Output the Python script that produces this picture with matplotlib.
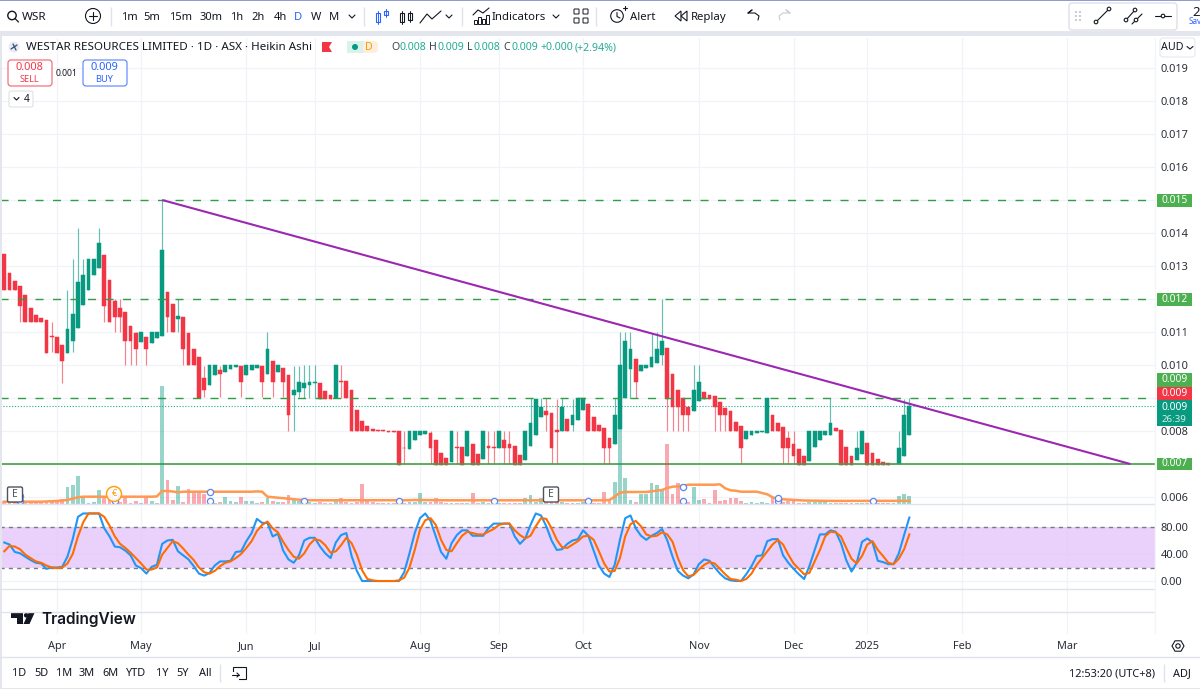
import numpy as np
import matplotlib
matplotlib.use("Agg")
import matplotlib.pyplot as plt
from matplotlib.patches import Rectangle, FancyBboxPatch, Circle, Polygon
from matplotlib.ticker import FuncFormatter

plt.rcParams["font.family"] = ["Noto Sans", "DejaVu Sans"]

W, H = 1200, 689

# Heikin Ashi candles, thousandths of an Australian dollar
opens = [
    13.35,12.8,12.55,12.39,12.11,11.73,11.51,11.41,11.36,10.89,
    10.86,10.62,10.37,10.73,11.13,11.81,12.27,12.74,12.95,13.33,
    12.58,11.94,11.73,11.6,11.18,10.96,10.71,10.86,10.66,10.83,
    10.89,12.2,11.84,11.4,11.45,10.98,10.47,10.23,9.62,9.4,
    9.69,9.85,9.79,9.88,9.94,9.98,9.71,9.84,9.92,9.98,
    9.72,10.11,9.79,9.9,9.71,9.09,9.18,9.3,9.39,9.44,
    9.46,9.21,9.1,9.0,9.51,9.51,9.25,8.63,8.31,8.14,
    8.07,8.03,8.02,8.0,8.0,8.0,7.49,7.46,7.73,7.87,
    7.92,7.94,7.72,7.34,7.18,7.07,7.53,7.51,7.24,7.6,
    7.3,7.14,7.55,7.53,7.49,7.74,7.61,7.56,7.27,7.11,
    7.54,7.89,8.43,8.6,8.54,8.02,8.0,8.37,8.17,8.32,
    8.65,8.83,8.41,8.18,8.1,7.78,7.62,8.06,9.0,9.88,
    10.18,9.83,9.9,9.93,10.06,10.29,10.52,9.74,9.24,9.0,
    8.74,8.6,8.92,9.19,9.09,9.05,8.88,8.7,8.6,8.28,
    8.14,7.77,7.89,7.94,7.98,7.95,8.47,8.23,8.11,7.8,
    7.62,7.44,7.24,7.09,7.51,7.73,7.87,7.89,8.1,8.04,
    7.51,7.25,7.11,7.29,7.63,7.32,7.15,7.07,7.02,7.0,
    7.0,7.24,7.87,
]
closes = [
    12.27,12.27,12.27,11.79,11.31,11.31,11.31,11.31,10.37,10.86,
    10.37,10.13,11.1,11.56,12.52,12.73,13.21,13.21,13.69,11.79,
    11.3,11.46,11.46,10.73,10.73,10.48,11.0,10.48,11.0,11.0,
    13.5,11.46,11.0,11.48,10.48,9.99,9.99,8.99,9.24,9.99,
    9.99,9.74,9.99,9.99,9.99,9.47,9.99,9.99,9.99,9.47,
    10.49,9.47,9.99,9.47,8.48,9.24,9.48,9.46,9.47,9.47,
    8.97,8.97,8.97,10.0,9.48,9.0,8.0,8.0,8.0,8.0,
    8.0,8.0,8.0,7.98,7.98,6.97,7.47,8.0,8.0,8.0,
    8.0,7.48,6.97,6.97,6.97,8.0,7.48,6.97,8.0,6.97,
    6.97,8.0,7.48,7.48,8.0,7.48,7.48,6.97,6.97,8.0,
    8.23,8.98,8.74,8.48,7.48,7.98,8.74,8.0,8.49,9.0,
    9.0,8.0,8.0,8.0,7.48,7.48,8.5,9.99,10.73,10.49,
    9.48,10.0,10.0,10.23,10.49,10.73,8.97,8.73,8.73,8.48,
    8.48,9.24,9.49,8.97,8.97,8.73,8.48,8.48,8.0,8.0,
    7.48,8.0,8.0,8.0,8.0,9.0,8.0,8.0,7.48,7.48,
    7.24,6.97,6.97,8.0,8.0,8.0,8.0,8.23,8.0,6.97,
    6.97,6.97,7.48,8.0,6.97,6.97,6.97,6.97,6.97,7.01,
    7.48,8.5,8.75,
]
highs = [
    13.35,12.8,12.55,12.39,12.11,11.73,11.51,11.41,11.36,11.31,
    10.86,10.62,12.27,13.21,14.16,13.21,13.21,13.21,14.16,13.33,
    12.58,12.0,12.0,11.6,11.18,11.0,11.0,10.86,11.0,11.0,
    15.0,12.2,11.84,12.0,11.45,10.98,10.47,10.23,9.98,9.99,
    9.99,9.98,9.99,9.99,9.99,9.98,9.99,9.99,9.99,9.98,
    11.01,10.11,9.99,9.9,9.71,9.98,9.98,10.0,10.0,10.0,
    9.46,9.21,9.1,10.0,10.0,9.51,9.25,8.63,8.31,8.14,
    8.07,8.03,8.02,8.0,8.0,8.0,8.0,8.0,8.0,8.0,
    8.0,8.0,7.72,7.34,7.18,8.0,8.0,7.51,8.0,7.6,
    7.3,8.0,8.0,8.0,8.0,8.0,8.0,7.56,7.27,8.0,
    9.0,8.98,9.0,9.0,8.54,8.98,9.0,8.37,8.98,9.0,
    9.0,8.83,8.41,8.18,8.1,7.78,9.0,11.0,11.0,11.0,
    10.18,10.0,10.0,10.95,11.0,12.0,10.52,9.74,9.24,9.0,
    8.74,10.0,10.0,9.19,9.09,9.05,8.88,8.7,8.6,8.28,
    8.14,8.0,8.0,8.0,8.0,9.0,8.47,8.23,8.11,8.0,
    8.0,7.44,7.24,8.0,8.0,8.0,8.0,9.0,8.1,8.04,
    7.51,7.25,8.0,8.0,7.63,7.32,7.15,7.07,7.02,7.01,
    8.0,8.98,9.0,
]
lows = [
    12.27,12.27,12.27,11.31,11.31,11.31,11.31,11.31,10.37,10.38,
    10.37,9.46,10.37,10.38,11.13,11.81,12.27,12.74,12.95,11.31,
    11.3,11.01,11.01,10.01,10.01,10.01,10.71,10.01,10.66,10.83,
    10.89,11.01,11.0,11.0,10.01,9.99,9.99,8.99,9.02,9.4,
    9.69,9.02,9.79,9.88,9.94,9.02,9.71,9.84,9.92,9.02,
    9.72,9.02,9.79,9.02,8.01,8.01,9.02,9.0,9.0,9.0,
    8.97,8.97,8.97,9.0,9.0,9.0,8.0,8.0,8.0,8.0,
    8.0,8.0,8.0,7.98,7.98,6.97,7.0,7.46,7.73,7.87,
    7.92,7.0,6.97,6.97,6.97,7.07,7.0,6.97,7.24,6.97,
    6.97,7.14,7.0,7.0,7.49,7.0,7.0,6.97,6.97,7.11,
    7.54,7.89,8.43,8.0,7.0,7.0,8.0,8.0,8.0,8.32,
    8.65,8.0,8.0,8.0,7.0,7.0,7.62,8.06,9.0,9.0,
    9.0,9.83,9.9,9.93,10.06,10.0,8.0,8.0,8.0,8.0,
    8.0,8.6,8.92,8.97,8.97,8.0,8.0,8.0,8.0,8.0,
    7.0,7.77,7.89,7.94,7.98,7.95,8.0,8.0,7.0,7.0,
    7.0,6.97,6.97,7.09,7.51,7.73,7.87,7.89,8.0,6.97,
    6.97,6.97,7.11,7.29,6.97,6.97,6.97,6.97,6.97,7.0,
    7.0,7.24,7.87,
]

# Traded volume and its moving average, in hundred-thousand shares
volume = [
    3.3,2,2,2,2,2,2,2,2.3,2.7,
    2.7,4.7,16.7,19.3,28,8,1.3,2.3,14,7.3,
    12.3,5.7,2.3,6.7,0.7,2.7,0.7,6.7,3.3,1.3,
    117.7,24,4,18,2.3,15.3,10.7,12.3,10,2.3,
    1.3,2.3,7.3,3.3,2,7.3,2.7,2.7,1.3,2.3,
    5.7,2.7,2.3,2.3,9,4,3.3,2,2,1.3,
    2,1.3,1.3,3,5.7,2,1.3,2,20,2.7,
    2,1.3,1,1,1,2,1.3,2,2,11.3,
    2,2,5.7,2,1.3,1.3,1.3,1.3,1.3,10.7,
    1.3,2,1.3,1.3,1.3,1.3,1.3,1.3,1.3,5.7,
    8.7,2,5.7,10,3,3,2,1.3,1.3,1.3,
    2,2,1.3,1.3,11.7,3.3,21.7,75.7,25.7,4,
    2,10,10,20.7,19,14.7,59.7,10,20.7,2.3,
    2.3,17.3,4,4.7,0.7,14,3.3,4,5.7,5.7,
    3.3,0.7,1.7,1.3,1.7,1.3,7.3,2,2,3.3,
    3.3,0.7,1.3,2,2,2,2,1.3,0.7,1,
    1,1,1,1,1,1,1,1,1,1,
    8.3,10.3,8,
]
volume_ma = [
    2.3,2.3,2.3,2.3,2.3,2.3,2.3,2.3,2.5,2.8,
    3,3.5,4,5.4,6.7,7.3,7.3,7.3,7.3,7.3,
    7.3,7.3,7.3,7.3,7.3,7.3,7.3,7.3,7.3,7.6,
    13,13,12.5,11.7,12.3,12.3,12.3,12.3,12.3,12.3,
    12.3,12.3,12.3,12.3,12.3,12.3,12.3,12.3,12.6,12.3,
    7.3,6.8,6.3,5.8,5.2,4.7,4.3,4,3.8,3.7,
    3.7,3.7,3.7,3.7,3.7,3.7,3.7,3.7,3.7,3.7,
    3.7,3.7,3.7,3.7,3.7,3.7,3.7,3.8,4,4,
    4,3.9,3.8,3.7,3.7,3.7,3.7,3.7,3.7,3.7,
    3.7,3.7,3.7,3.7,3.7,3.7,3.7,3.7,3.7,3.7,
    3.7,3.7,3.7,3.7,3.7,3.7,3.7,3.7,3.7,3.7,
    3.7,3.7,3.7,3.7,3.7,4,7.3,11.3,12,12,
    12,12,12,12.7,13.3,14,16,17.3,17.7,18.3,
    19.3,19.3,19.3,19.3,19.3,19.3,19.7,15.7,13.7,13.3,
    12.3,12.3,12.3,12.3,11,9.7,6.7,5,4.7,4.3,
    4,3.7,3.5,3.4,3.3,3.2,3.2,3.1,3.1,3.1,
    3,3,3,3,3,3,3,3,3,3,
    3,3,3.2,
]

# Stochastic RSI, %K and %D
stoch_k = [
    57,54,43,41,36,31,27,26,18,20,
    20,21,36,62,95,100,100,100,100,78,
    66,51,50,45,38,23,19,11,21,24,
    55,60,61,44,38,32,22,11,8,12,
    23,29,29,30,43,44,59,71,92,86,
    86,66,70,45,32,27,38,60,64,64,
    51,41,34,57,68,71,37,15,0,0,
    0,0,0,0,0,0,13,41,71,93,
    100,89,66,43,33,56,68,75,75,67,
    67,67,78,85,85,85,85,66,55,63,
    83,100,97,81,60,46,47,55,60,62,
    75,67,45,23,11,6,24,61,93,97,
    78,67,61,67,71,77,60,36,15,8,
    4,10,25,32,30,20,11,4,1,0,
    0,10,22,37,38,59,62,62,38,27,
    18,10,3,22,46,69,69,75,73,56,
    31,14,27,58,63,57,30,28,25,25,
    41,68,94,
]
stoch_d = [
    44,52,51,47,39,34,29,27,23,20,
    19,20,26,40,66,87,100,100,100,95,
    82,66,55,49,42,34,26,17,17,20,
    39,49,59,56,48,39,31,20,13,11,
    15,22,27,29,34,40,49,59,74,83,
    88,78,72,58,46,36,33,41,54,62,
    60,53,42,44,53,64,56,39,16,3,
    1,0,0,0,0,1,5,20,46,76,
    90,93,83,61,46,44,56,67,73,71,
    69,69,73,77,83,85,85,75,68,63,
    67,81,93,92,78,61,50,49,54,59,
    66,67,61,44,26,14,15,34,66,84,
    89,81,69,66,67,72,69,58,34,16,
    7,9,17,24,28,26,18,10,3,2,
    0,3,11,24,34,44,54,61,54,39,
    26,18,10,12,29,46,66,73,72,66,
    49,33,26,37,54,59,46,37,27,25,
    33,47,69,
]

price_ticks = [0.006, 0.008, 0.010, 0.011, 0.013, 0.014, 0.016, 0.017,
               0.018, 0.019]
grid_only_prices = [0.007, 0.009, 0.012, 0.015]
stoch_ticks = [0, 40, 80]
month_labels = ["Apr", "May", "Jun", "Jul", "Aug", "Sep", "Oct", "Nov",
                "Dec", "2025", "Feb", "Mar"]
month_bars = [10, 26, 46, 59, 79, 94, 110, 132, 150, 164, 182, 202]
dashed_levels = [0.015, 0.012, 0.009]
solid_level = 0.007
trend_bars = [30, 214]
trend_prices = [0.015, 0.007]
dividend_bars = [3, 21, 39, 57, 75, 93, 111, 129, 147, 165]
dividend_low = [3, 3, 3, 3, 3, 3, 3, 3, 3, 3]
upper_marker_bars = [3, 21, 39, 129, 147]
upper_marker_vol = [8, 8, 12, 17, 6]

GREEN = "#089981"
RED = "#f23645"
LEVEL = "#2f9e44"
INK = "#131722"
GRID = "#f0f3fa"
EDGE = "#e0e3eb"

o = np.array(opens) * 1e-3
c = np.array(closes) * 1e-3
hi = np.array(highs) * 1e-3
lo = np.array(lows) * 1e-3
bars = np.arange(len(o))
up = c >= o
colours = np.where(up, GREEN, RED)


def rect_of(x0, y0, x1, y1):
    """Axes rectangle from pixel corners measured from the top left."""
    return [x0 / W, 1 - y1 / H, (x1 - x0) / W, (y1 - y0) / H]


fig = plt.figure(figsize=(W / 100, H / 100), dpi=100, facecolor="white")
bar_limits = (-0.817, 218.68)

# Price pane; the levels carrying a coloured tag have no plain tick label
ax = fig.add_axes(rect_of(0, 38, 1155, 504))
ax.set_xlim(*bar_limits)
ax.set_ylim(0.005788, 0.019909)
ax.yaxis.tick_right()
ax.set_yticks(price_ticks)
ax.yaxis.set_major_formatter(FuncFormatter(lambda v, _: f"{v:.3f}"))
ax.tick_params(axis="y", length=0, pad=4.2, labelsize=7.9, labelcolor="#2a2e39")
ax.set_xticks(month_bars)
ax.tick_params(axis="x", length=0, labelbottom=False)
ax.grid(True, color=GRID, lw=0.9)
ax.set_axisbelow(True)
for s in ax.spines.values():
    s.set_visible(False)
for lvl in grid_only_prices:
    ax.axhline(lvl, color=GRID, lw=0.9, zorder=1)

ax.vlines(bars, lo, hi, colors=colours, lw=0.85, alpha=0.62, zorder=3)
ax.bar(bars, np.abs(c - o), bottom=np.minimum(o, c), width=0.72, color=colours,
       edgecolor=colours, lw=0.35, zorder=4)

for lvl in dashed_levels:
    ax.axhline(lvl, color=LEVEL, lw=1.0, ls=(0, (5.8, 6.8)), zorder=5)
ax.axhline(solid_level, color="#43a047", lw=1.2, zorder=5)
ax.axhline(c[-1], color="#22ab94", lw=0.8, ls=(0, (1, 1.6)), zorder=2)
ax.plot(trend_bars, trend_prices, color="#9c27b0", lw=1.5, zorder=6,
        solid_capstyle="butt")

# Volume overlay shares the bottom of the price pane
vol = fig.add_axes(rect_of(0, 38, 1155, 504), sharex=ax)
vol.patch.set_alpha(0)
vol.set_ylim(0, 466)
vol.axis("off")
vol.bar(bars, volume, width=0.72, color=colours, alpha=0.42, lw=0, zorder=2)
vol.plot(bars, volume_ma, color="#ff9850", lw=1.8, zorder=3)
vol.scatter(dividend_bars, dividend_low, s=20, facecolor="white",
            edgecolor="#5f86ee", lw=0.9, zorder=5)
vol.scatter(upper_marker_bars, upper_marker_vol, s=20, facecolor="white",
            edgecolor="#5f86ee", lw=0.9, zorder=5)

# Stochastic RSI pane
st = fig.add_axes(rect_of(0, 504, 1155, 589), sharex=ax)
st.set_ylim(-11.8, 114)
st.yaxis.tick_right()
st.set_yticks(stoch_ticks)
st.yaxis.set_major_formatter(FuncFormatter(lambda v, _: f"{v:.2f}"))
st.tick_params(axis="y", length=0, pad=4.2, labelsize=7.9, labelcolor="#2a2e39")
st.tick_params(axis="x", length=0, labelbottom=False)
st.grid(True, color=GRID, lw=0.9)
st.set_axisbelow(True)
for s in st.spines.values():
    s.set_visible(False)
st.axhspan(20, 80, color="#e2c2fa", alpha=0.75, lw=0, zorder=1)
for lvl in (20, 80):
    st.axhline(lvl, color="#787b86", lw=1.0, ls=(0, (3, 3)), zorder=2)
st.plot(bars, stoch_k, color="#2196f3", lw=1.5, zorder=3)
st.plot(bars, stoch_d, color="#ff6d00", lw=1.5, zorder=4)

# Time scale
tm = fig.add_axes(rect_of(0, 589, 1155, 634), sharex=ax)
tm.set_yticks([])
tm.set_xticks(month_bars)
tm.set_xticklabels(month_labels)
tm.tick_params(axis="x", length=0, pad=4.9, labelsize=7.9, labelcolor="#2a2e39",
               labelbottom=True)
tm.grid(True, axis="x", color=GRID, lw=0.9)
for s in tm.spines.values():
    s.set_visible(False)
for lab in tm.get_xticklabels():
    if lab.get_text() == "2025":
        lab.set_fontweight("bold")

# Interface chrome, laid out in pixels
ui = fig.add_axes([0, 0, 1, 1], zorder=20)
ui.set_xlim(0, W)
ui.set_ylim(H, 0)
ui.axis("off")
ui.patch.set_alpha(0)


def label(x, y, s, size=7.9, color=INK, ha="center", weight="normal", **kw):
    return ui.text(x, y + 1, s, fontsize=size, color=color, ha=ha, va="center",
                   fontweight=weight, **kw)


def stroke(xs, ys, color=INK, lw=0.9, **kw):
    ui.plot(xs, ys, color=color, lw=lw, solid_capstyle="round", **kw)


def rule(x0, y0, x1, y1, color=EDGE, lw=1.0):
    ui.plot([x0, x1], [y0, y1], color=color, lw=lw, solid_capstyle="butt")


# Page frame and top toolbar
ui.add_patch(Rectangle((0, 0), W, 32, fc="white", ec="none"))
ui.add_patch(Rectangle((0, 31), W, 4.5, fc="#e4e6ee", ec="none"))
ui.add_patch(Rectangle((0, 0), W, 1.2, fc="#8f9ccf", ec="none"))
ui.add_patch(Rectangle((0, 35), 1.6, H - 35, fc="#e4e6ee", ec="none"))
ui.add_patch(Rectangle((0, 687.5), W, 1.5, fc="#e4e6ee", ec="none"))
rule(0, 504, 1155, 504)
rule(0, 589, 1155, 589)
rule(0, 612, 1155, 612)
rule(0, 657, W, 657)
rule(1155, 38, 1155, 634, color="#f4f5f9")

ui.add_patch(Circle((12, 15.5), 4.2, fc="none", ec=INK, lw=1.0))
stroke([15, 18.5], [18.5, 22])
label(22, 16, "WSR", size=8.4, ha="left", weight="bold")
ui.add_patch(Circle((93, 16), 7.5, fc="none", ec=INK, lw=0.8))
stroke([89, 97], [16, 16], lw=0.8)
stroke([93, 93], [12, 20], lw=0.8)
rule(110.5, 7, 110.5, 26)
for x, s in [(129, "1m"), (152, "5m"), (181, "15m"), (211, "30m"), (237, "1h"),
             (258, "2h"), (280, "4h"), (316, "W"), (334, "M")]:
    label(x, 16.5, s, size=8.0)
label(298, 16.5, "D", size=8.0, color="#2962ff")
for x in (352, 449, 556):
    stroke([x - 3, x, x + 3], [15, 18, 15], lw=0.8)
rule(364, 7, 364, 26)
rule(462, 7, 462, 26)
rule(596, 7, 596, 26)
for x, y0, y1, col in [(378, 11, 24, "#2962ff"), (386, 9, 17, "#2962ff"),
                       (402, 11, 24, INK), (410, 11, 22, INK)]:
    ui.add_patch(Rectangle((x - 2, y0 + 2), 4, y1 - y0 - 4, fc="white", ec=col, lw=0.8))
    stroke([x, x], [y0, y1], color=col, lw=0.7, zorder=1)
stroke([420, 427, 432, 441], [23, 14, 19, 11], lw=0.8)
for x, h in [(473.5, 4), (477.5, 7), (481.5, 5), (485.5, 9)]:
    ui.add_patch(Rectangle((x, 24 - h), 3, h, fc="white", ec=INK, lw=0.7))
stroke([473, 478, 483, 489], [15, 10, 13, 8], lw=0.8)
label(492, 16.5, "Indicators", size=8.2, ha="left")
for x in (576.5, 585.5):
    for y in (11.5, 20.5):
        ui.add_patch(FancyBboxPatch((x - 2, y - 2), 4, 4, boxstyle="round,pad=0.5",
                                    fc="white", ec=INK, lw=0.7))
ui.add_patch(Circle((617, 16), 6.3, fc="none", ec=INK, lw=0.8))
stroke([617, 617, 620], [12.5, 16.5, 18], lw=0.8)
stroke([623, 627], [8, 8], lw=0.8)
stroke([625, 625], [6, 10], lw=0.8)
label(630, 16.5, "Alert", size=8.2, ha="left")
ui.add_patch(Polygon([[681, 11], [675, 16], [681, 21]], closed=True, fc="none", ec=INK, lw=0.8))
ui.add_patch(Polygon([[687, 11], [681, 16], [687, 21]], closed=True, fc="none", ec=INK, lw=0.8))
label(691, 16.5, "Replay", size=8.2, ha="left")
stroke([748, 752, 748, 755, 759, 758], [13, 10, 13, 13, 16, 20], lw=0.8)
stroke([790, 786, 790, 783, 779, 780], [13, 10, 13, 13, 16, 20], color="#c9ccd6", lw=0.8)

# Floating drawing toolbar
ui.add_patch(FancyBboxPatch((1069, 3), 108, 27, boxstyle="round,pad=0,rounding_size=3",
                            fc="white", ec="#e3e5ec", lw=1.2))
for x in (1076, 1080):
    for y in (12, 16, 20):
        ui.add_patch(Rectangle((x - 0.8, y - 0.8), 1.6, 1.6, fc="#c9ccd6", ec="none"))
for x0, y0, x1, y1 in [(1096, 22, 1109, 9), (1126, 20, 1135, 10)]:
    stroke([x0, x1], [y0, y1], lw=0.8)
    ui.add_patch(Circle((x0, y0), 1.8, fc="white", ec=INK, lw=0.8, zorder=5))
    ui.add_patch(Circle((x1, y1), 1.8, fc="white", ec=INK, lw=0.8, zorder=5))
stroke([1132, 1142], [24, 14], lw=0.8)
ui.add_patch(Circle((1136, 20), 1.8, fc="white", ec=INK, lw=0.8, zorder=5))
stroke([1155, 1171], [16, 16], lw=0.8)
ui.add_patch(Circle((1163, 16), 1.8, fc="white", ec=INK, lw=0.8, zorder=5))
label(1196, 11, "2", size=9.5, weight="bold")
label(1188.5, 21, "Sav", size=5.8, color="#2962ff", ha="left")

# Symbol header
ui.add_patch(Circle((14, 47), 5.5, fc="#e8ecf5", ec="none"))
stroke([11, 17], [49, 45], color="#3a4a78", lw=0.9)
stroke([13, 16], [44, 50], color="#3a4a78", lw=0.9)
label(26, 47, "WESTAR RESOURCES LIMITED · 1D · ASX · Heikin Ashi", size=8.35, ha="left")
ui.add_patch(Polygon([[322, 42], [332, 42], [329, 47], [332, 52], [322, 52]],
                     closed=True, fc=RED, ec="none"))
ui.add_patch(FancyBboxPatch((353, 41), 14, 12, boxstyle="round,pad=0,rounding_size=4",
                            fc="#daf2ec", ec="none"))
ui.add_patch(FancyBboxPatch((363, 41), 15, 12, boxstyle="round,pad=0,rounding_size=4",
                            fc="#fdeedd", ec="none"))
ui.add_patch(Circle((355, 47), 3, fc=GREEN, ec="none", zorder=5))
ui.add_patch(Rectangle((347, 41), 8, 12, fc="#daf2ec", ec="none", zorder=1))
label(369, 46.5, "D", size=7.6, color="#ff9800", weight="bold")
for x, s in [(391, "O"), (429, "H"), (467, "L"), (503, "C")]:
    label(x, 46.5, s, size=7.6, color="#3a3e4a", ha="left")
for x, s in [(399, "0.008"), (437, "0.009"), (473, "0.008"), (511, "0.009"),
             (540, "+0.000"), (575, "(+2.94%)")]:
    label(x, 46.5, s, size=7.6, color="#22ab94", ha="left")

# Order buttons
for x0, col, price, side in [(8, RED, "0.008", "SELL"), (83, "#2962ff", "0.009", "BUY")]:
    ui.add_patch(FancyBboxPatch((x0, 60), 44, 26, boxstyle="round,pad=0,rounding_size=3",
                                fc="white", ec=col, lw=0.8, alpha=0.8))
    label(x0 + 21.5, 67, price, size=7.9, color=col)
    label(x0 + 21.5, 78, side, size=6.6, color=col)
label(67, 72, "0.001", size=6.2)
ui.add_patch(FancyBboxPatch((9, 91), 24, 16, boxstyle="round,pad=0,rounding_size=2",
                            fc="white", ec="#dfe1e8", lw=0.8))
stroke([14, 16.5, 19], [97.5, 100, 97.5], lw=0.8)
label(27, 98, "4", size=7.2)

# Currency selector and price tags
ui.add_patch(FancyBboxPatch((1160, 38), 35, 19, boxstyle="round,pad=0,rounding_size=3",
                            fc="white", ec="#e6e8ef", lw=0.8))
label(1172, 46.5, "AUD", size=7.7)
stroke([1187, 1190, 1193], [46.5, 49, 46.5], lw=0.8)


def tag(y0, y1, text, fill, sub=None):
    ui.add_patch(Rectangle((1157, y0), 35, y1 - y0, fc=fill, ec="none", zorder=6))
    if sub is None:
        label(1174.5, (y0 + y1) / 2 - 1, text, size=7.4, color="white", weight="bold", zorder=7)
    else:
        label(1174.5, y0 + 6.5, text, size=7.4, color="white", weight="bold", zorder=7)
        label(1174.5, y0 + 18, sub, size=7.0, color="#d5efe9", zorder=7)


tag(194, 207, "0.015", "#4caf50")
tag(293, 306, "0.012", "#4caf50")
tag(373, 387, "0.009", "#4caf50")
tag(387, 400, "0.009", RED)
tag(400, 426, "0.009", GREEN, sub="26:39")
tag(458, 470, "0.007", "#4caf50")

# Earnings and dividend badges
for x in (15, 551):
    ui.add_patch(FancyBboxPatch((x - 7.5, 487), 15, 15, boxstyle="round,pad=0,rounding_size=1.5",
                                fc="white", ec="#50535e", lw=1.0, zorder=4))
    label(x, 493.5, "E", size=7.4, color="#50535e", zorder=5)
ui.add_patch(Circle((114, 494), 7.5, fc="white", ec="#ff9800", lw=1.1, alpha=0.9, zorder=4))
label(114, 492, "€", size=6.5, color="#ff9800", zorder=5)

# Wordmark
ui.add_patch(Polygon([[11, 613], [22.5, 613], [22.5, 624], [16.5, 624], [16.5, 618], [11, 618]],
                     closed=True, fc=INK, ec="none"))
ui.add_patch(Circle((26.2, 615.3), 2.3, fc=INK, ec="none"))
ui.add_patch(Polygon([[28.5, 613], [34.5, 613], [29.5, 624], [23.5, 624]],
                     closed=True, fc=INK, ec="none"))
label(41, 618, "TradingView", size=11.1, ha="left", weight="semibold", family="Inter")

# Bottom bar
for x, s in [(19, "1D"), (41, "5D"), (64, "1M"), (87, "3M"), (110, "6M"),
             (136, "YTD"), (162, "1Y"), (183, "5Y"), (205, "All")]:
    label(x, 672.5, s, size=7.9)
rule(220, 664, 220, 682)
ui.add_patch(Rectangle((233, 667), 13, 12, fc="none", ec=INK, lw=0.8))
ui.add_patch(Rectangle((231, 672), 8, 9, fc="white", ec="none", zorder=4))
stroke([232, 239], [675, 675], lw=0.8, zorder=5)
stroke([237, 239, 237], [673, 675, 677], lw=0.8, zorder=5)
label(1155, 672.5, "12:53:20 (UTC+8)", size=7.9, ha="right")
rule(1164, 664, 1164, 682)
label(1182, 672.5, "ADJ", size=7.9)
hex_angles = np.deg2rad(np.arange(0, 360, 60))
ui.add_patch(Polygon(np.column_stack([1178 + 6 * np.cos(hex_angles), 646 + 6 * np.sin(hex_angles)]),
                     closed=True, fc="none", ec=INK, lw=0.8))
ui.add_patch(Circle((1178, 646), 2.2, fc="none", ec=INK, lw=0.8))

fig.savefig("out.png", dpi=100)
